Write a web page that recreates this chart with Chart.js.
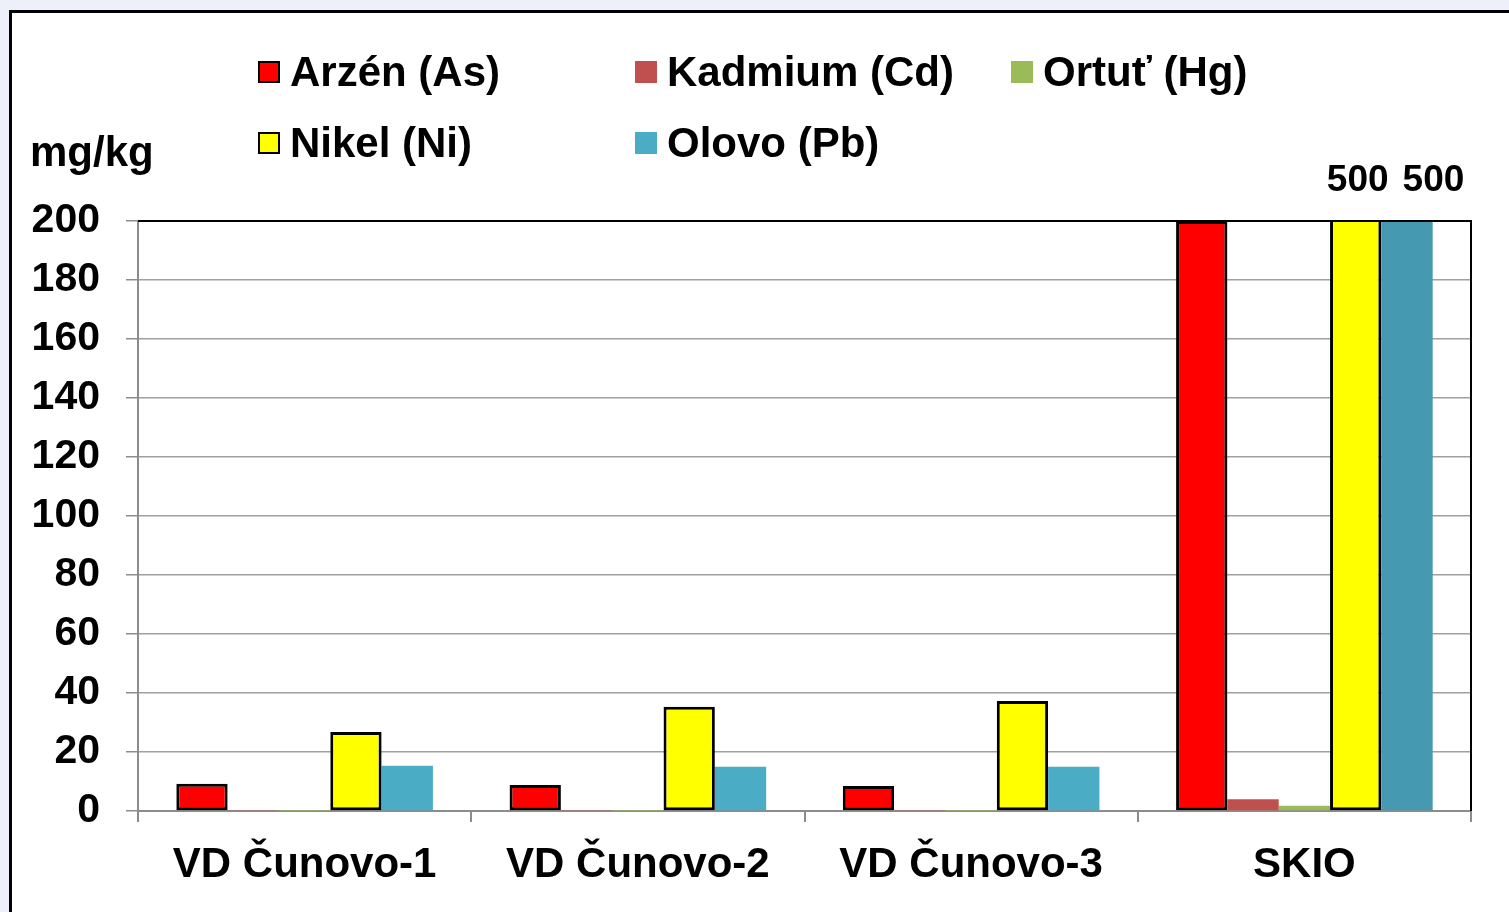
<!DOCTYPE html>
<html>
<head>
<meta charset="utf-8">
<script src="https://cdn.jsdelivr.net/npm/chart.js@4"></script>
<style>
  html, body { margin: 0; padding: 0; }
  body { width: 1509px; height: 912px; background: #eef0f9; position: relative; overflow: hidden; font-family: "Liberation Sans", Arial, sans-serif; }
  #panel { position: absolute; left: 9px; top: 10px; width: 1520px; height: 920px; background: #fff; border-left: 3px solid #000; border-top: 3px solid #000; }
  #wrap { position: absolute; left: 0; top: 0; width: 1509px; height: 912px; }
  .unit { position: absolute; left: 30px; top: 128px; font: bold 42px "Liberation Sans", Arial, sans-serif; color: #000; }
  .lg { position: absolute; font: bold 42px "Liberation Sans", Arial, sans-serif; color: #000; white-space: nowrap; line-height: 48px; }
  .lg i { position: absolute; left: 0; top: 13px; width: 22px; height: 22px; box-sizing: border-box; }
</style>
</head>
<body>
<div id="panel"></div>
<div id="wrap"><canvas id="chart" width="1509" height="912"></canvas></div>
<div class="unit">mg/kg</div>
<div id="legend"></div>
<script>
const categories = ['VD Čunovo-1', 'VD Čunovo-2', 'VD Čunovo-3', 'SKIO'];
const seriesNames = ['Arzén (As)', 'Kadmium (Cd)', 'Ortuť (Hg)', 'Nikel (Ni)', 'Olovo (Pb)'];
const arsen = [9.2, 8.8, 8.5, 200];
const kadmium = [0.3, 0.3, 0.3, 4];
const ortut = [0.1, 0.1, 0.1, 1.8];
const nikel = [26.8, 35.3, 37.3, 500];
const olovo = [15.3, 15, 15, 500];
const yTicks = [0, 20, 40, 60, 80, 100, 120, 140, 160, 180, 200];

const colors = ['#ff0000', '#c0504d', '#9bbb59', '#ffff00', '#4bacc6'];
const outlined = [true, false, false, true, false];
const values = [arsen, kadmium, ortut, nikel, olovo];
const yMax = yTicks[yTicks.length - 1];

// legend (3 columns, 2 rows)
const legendPos = [[258, 48], [635, 48], [1011, 48], [258, 119], [635, 119]];
const legend = document.getElementById('legend');
seriesNames.forEach((name, i) => {
  const d = document.createElement('div');
  d.className = 'lg';
  d.style.left = legendPos[i][0] + 'px';
  d.style.top = legendPos[i][1] + 'px';
  d.style.paddingLeft = '32px';
  const sq = document.createElement('i');
  sq.style.background = colors[i];
  if (outlined[i]) sq.style.border = '2px solid #000';
  d.appendChild(sq);
  d.appendChild(document.createTextNode(name));
  legend.appendChild(d);
});

const datasets = values.map((v, i) => ({
  label: seriesNames[i],
  data: v,
  backgroundColor: i === 4 ? v.map((_, j) => j === 3 ? '#4599b0' : colors[i]) : colors[i],
  borderColor: '#000',
  borderWidth: outlined[i] ? 3 : 0,
  borderSkipped: false,
  categoryPercentage: 0.77,
  barPercentage: 1
}));

// labels for values above the axis maximum + plot frame
const extras = {
  id: 'extras',
  afterDatasetsDraw(chart) {
    const ctx = chart.ctx;
    const a = chart.chartArea;
    ctx.save();
    ctx.strokeStyle = '#000';
    ctx.lineWidth = 2;
    ctx.beginPath();
    ctx.moveTo(a.left, a.top);
    ctx.lineTo(a.right, a.top);
    ctx.lineTo(a.right, a.bottom);
    ctx.stroke();
    ctx.fillStyle = '#000';
    ctx.font = 'bold 37px "Liberation Sans", Arial, sans-serif';
    ctx.textAlign = 'center';
    ctx.textBaseline = 'middle';
    let prevRight = -Infinity;
    chart.data.datasets.forEach((ds, i) => {
      const meta = chart.getDatasetMeta(i);
      ds.data.forEach((v, j) => {
        if (v <= yMax) return;
        const txt = String(v);
        const w = ctx.measureText(txt).width;
        let x = meta.data[j].x + 2;
        if (x - w / 2 < prevRight + 14) x = prevRight + 14 + w / 2;
        ctx.fillText(txt, x, a.top - 40);
        prevRight = x + w / 2;
      });
    });
    ctx.restore();
  }
};

new Chart(document.getElementById('chart'), {
  type: 'bar',
  data: { labels: categories, datasets: datasets },
  options: {
    responsive: false,
    animation: false,
    layout: { padding: { top: 221, right: 38, left: 0, bottom: 0 } },
    plugins: { legend: { display: false }, tooltip: { enabled: false } },
    scales: {
      x: {
        offset: true,
        grid: { offset: true, drawOnChartArea: false, color: '#8c8c8c', lineWidth: 2, tickLength: 11 },
        border: { color: '#8c8c8c', width: 2 },
        ticks: { color: '#000', padding: 18, font: { family: 'Liberation Sans', size: 42, weight: 'bold' } },
        afterFit(s) { s.height = 101; }
      },
      y: {
        min: 0,
        max: yMax,
        afterBuildTicks(s) { s.ticks = yTicks.map(v => ({ value: v })); },
        grid: { color: '#a0a0a0', lineWidth: 1.5, tickLength: 12, tickColor: '#8c8c8c' },
        border: { color: '#8c8c8c', width: 2 },
        ticks: { color: '#000', padding: 26, font: { family: 'Liberation Sans', size: 41, weight: 'bold' } },
        afterFit(s) { s.width = 138; }
      }
    }
  },
  plugins: [extras]
});
</script>
</body>
</html>
